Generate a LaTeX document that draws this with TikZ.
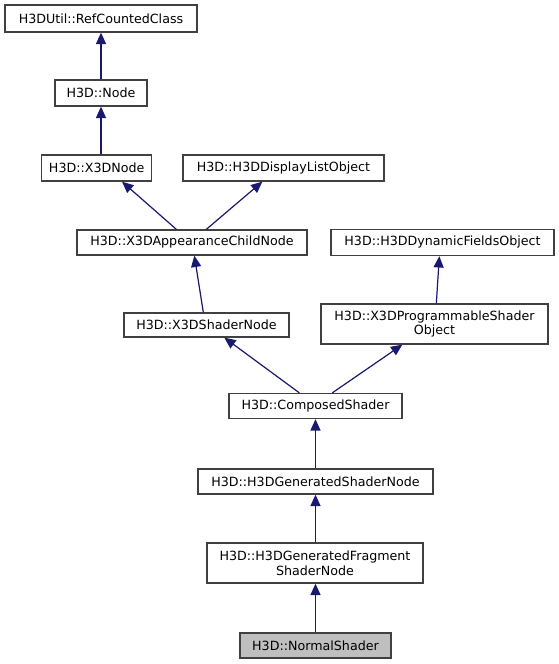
\documentclass[tikz,border=0pt]{standalone}
\usepackage{fontspec}
\setmainfont{DejaVu Sans}
\usetikzlibrary{arrows.meta,calc}
\definecolor{edgeblue}{RGB}{25,25,112}
\definecolor{boxline}{RGB}{64,64,64}
\tikzset{
  cls/.style={draw=boxline, line width=1pt, fill=white, inner sep=0pt, align=center,
    font=\fontsize{9.5pt}{11pt}\selectfont, text=black},
  inh/.style={draw=edgeblue, line width=0.9pt, -{Triangle[length=8.5pt,width=7.5pt]}, fill=edgeblue},
}
\begin{document}
\begin{tikzpicture}[x=0.75pt,y=-0.75pt]
\useasboundingbox (0,0) rectangle (559,664);
\node[cls, minimum width=192*0.75pt, minimum height=27*0.75pt] (rc) at (101,18.5) {H3DUtil::RefCountedClass};
\node[cls, minimum width=92*0.75pt, minimum height=26*0.75pt] (nd) at (101,93) {H3D::Node};
\node[cls, minimum width=110*0.75pt, minimum height=26*0.75pt] (x3d) at (96.7,168) {H3D::X3DNode};
\node[cls, minimum width=201*0.75pt, minimum height=26*0.75pt] (dlo) at (283.5,168) {H3D::H3DDisplayListObject};
\node[cls, minimum width=230*0.75pt, minimum height=25*0.75pt] (acn) at (192,242.5) {H3D::X3DAppearanceChildNode};
\node[cls, minimum width=223*0.75pt, minimum height=26*0.75pt] (dfo) at (442.5,242.5) {H3D::H3DDynamicFieldsObject};
\node[cls, minimum width=165*0.75pt, minimum height=24*0.75pt] (sn) at (206.5,325) {H3D::X3DShaderNode};
\node[cls, minimum width=227*0.75pt, minimum height=40*0.75pt] (pso) at (434.5,324) {H3D::X3DProgrammableShader\\Object};
\node[cls, minimum width=173*0.75pt, minimum height=25*0.75pt] (cs) at (315.5,406) {H3D::ComposedShader};
\node[cls, minimum width=235*0.75pt, minimum height=25*0.75pt] (gsn) at (315.5,481.5) {H3D::H3DGeneratedShaderNode};
\node[cls, minimum width=216*0.75pt, minimum height=40*0.75pt] (gfsn) at (315,563) {H3D::H3DGeneratedFragment\\ShaderNode};
\node[cls, minimum width=151*0.75pt, minimum height=25*0.75pt, fill={rgb,255:red,191;green,191;blue,191}] (ns) at (315.5,645.5) {H3D::NormalShader};

\draw[inh] (nd.north) -- (rc.south);
\draw[inh] (x3d.north -| nd.south) -- (nd.south);
\draw[inh] ($(acn.north west)+(100,0)$) -- ($(x3d.south west)+(81,0)$);
\draw[inh] ($(acn.north west)+(130,0)$) -- ($(dlo.south west)+(80,0)$);
\draw[inh] ($(sn.north west)+(80,0)$) -- ($(acn.south west)+(118,0)$);
\draw[inh] ($(pso.north west)+(116,0)$) -- ($(dfo.south west)+(109,0)$);
\draw[inh] ($(cs.north west)+(71,0)$) -- ($(sn.south west)+(101,0)$);
\draw[inh] ($(cs.north west)+(104,0)$) -- ($(pso.south west)+(82,0)$);
\draw[inh] (gsn.north -| cs.south) -- (cs.south);
\draw[inh] (gfsn.north -| cs.south) -- (gsn.south -| cs.south);
\draw[inh] (ns.north -| cs.south) -- (gfsn.south -| cs.south);
\end{tikzpicture}
\end{document}
